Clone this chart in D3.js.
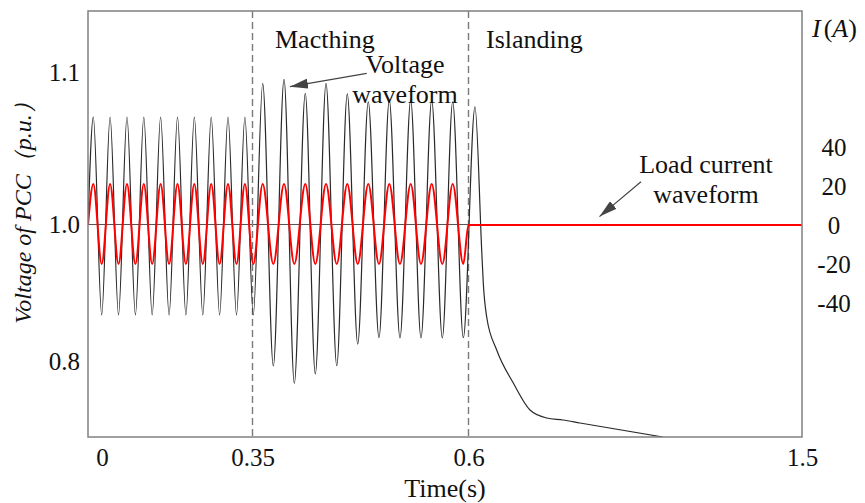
<!DOCTYPE html>
<html>
<head>
<meta charset="utf-8">
<script src="https://cdn.jsdelivr.net/npm/d3@7"></script>
<style>
  body { margin: 0; background: #fff; }
  text { font-family: "Liberation Serif", "Times New Roman", serif; fill: #111; }
</style>
</head>
<body>
<div id="vis"></div>
<script>
// chart frame
const FRAME_WIDTH = 865;
const FRAME_HEIGHT = 503;
const PLOT = {left: 88, right: 802, top: 11, bottom: 437};
const SERIF = "'Liberation Serif', 'Times New Roman', serif";

// extrema of the waveforms (time in s)
const cycleTime = [
  -0.0202, -0.0007, 0.0188, 0.0384, 0.0581, 0.0777, 0.0972, 0.1167, 0.1363, 0.1560,
  0.1756, 0.1951, 0.2147, 0.2344, 0.2540, 0.2735, 0.2930, 0.3128, 0.3323, 0.3509,
  0.3618, 0.3741, 0.3865, 0.3984, 0.4111, 0.4227, 0.4351, 0.4475, 0.4597, 0.4718,
  0.4840, 0.4964, 0.5083, 0.5207, 0.5331, 0.5450, 0.5574, 0.5697, 0.5817, 0.5940
];
const voltExt = [
  1.0705, 0.8679, 1.0705, 0.8679, 1.0705, 0.8679, 1.0705, 0.8679, 1.0705, 0.8679,
  1.0705, 0.8679, 1.0705, 0.8679, 1.0705, 0.8679, 1.0705, 0.8679, 1.0705, 0.8679,
  1.0926, 0.7934, 1.0952, 0.7682, 1.0860, 0.7818, 1.0926, 0.7939, 1.0856, 0.8255,
  1.0805, 0.8347, 1.0816, 0.8343, 1.0816, 0.8343, 1.0816, 0.8343, 1.0805, 0.8347
];
const currExt = [
  21, -20, 21, -20, 21, -20, 21, -20, 21, -20,
  21, -20, 21, -20, 21, -20, 21, -20, 21, -20,
  21, -20, 21, -20, 21, -20, 21, -20, 21, -20,
  21, -20, 21, -20, 21, -20, 21, -20, 21, -20
];
// after islanding
const decayTime = [0.6175, 0.6356, 0.6399, 0.6491, 0.6761, 0.7209, 0.7659, 0.8110, 0.8550, 0.9009, 1.1248];
const decayVolt = [1.0772, 0.9628, 0.9146, 0.8650, 0.8168, 0.7686, 0.7292, 0.7175, 0.7146, 0.7102, 0.6898];
const flatTime = [0.6, 1.5];
const flatCurr = [0, 0];

const START_T = -0.0326;

// ticks
const xTicks = [0, 0.35, 0.6, 1.5];
const vTicks = [0.8, 1.0, 1.1];
const iTicks = [40, 20, 0, -20, -40];
const eventTimes = [0.35, 0.6];

const svg = d3.select("#vis")
  .append("svg")
    .attr("width", FRAME_WIDTH)
    .attr("height", FRAME_HEIGHT);

// scales (axis labels are unevenly spaced in the original, so piecewise)
const X_SCALE = d3.scaleLinear()
  .domain([START_T, 0, 0.35, 0.6, 1.5])
  .range([PLOT.left, 102, 252.5, 468.5, PLOT.right]);
const YV_SCALE = d3.scaleLinear()
  .domain([0.8, 1.0, 1.1])
  .range([361.5, 224.5, 72]);
const YI_SCALE = d3.scaleLinear()
  .domain([-40, 40])
  .range([303, 147]);

const defs = svg.append("defs");
defs.append("clipPath").attr("id", "clip")
  .append("rect")
    .attr("x", PLOT.left).attr("y", PLOT.top)
    .attr("width", PLOT.right - PLOT.left)
    .attr("height", PLOT.bottom - PLOT.top);

defs.append("marker")
    .attr("id", "arrow")
    .attr("markerUnits", "userSpaceOnUse")
    .attr("viewBox", "0 0 18 10")
    .attr("refX", 18).attr("refY", 5)
    .attr("markerWidth", 18).attr("markerHeight", 10)
    .attr("orient", "auto")
  .append("path")
    .attr("d", "M0,0 L18,5 L0,10 Z")
    .attr("fill", "#444");

// reference line at 1.0
svg.append("line")
  .attr("x1", PLOT.left).attr("x2", PLOT.right)
  .attr("y1", YV_SCALE(1.0)).attr("y2", YV_SCALE(1.0))
  .attr("stroke", "#555").attr("stroke-width", 1.2);

// event lines
svg.selectAll(".event")
  .data(eventTimes)
  .enter()
  .append("line")
    .attr("x1", (d) => X_SCALE(d)).attr("x2", (d) => X_SCALE(d))
    .attr("y1", PLOT.top).attr("y2", PLOT.bottom)
    .attr("stroke", "#7a7a7a").attr("stroke-width", 1.4)
    .attr("stroke-dasharray", "7,4");

// build series
const voltData = [{t: START_T, v: 1.0}]
  .concat(cycleTime.map((t, i) => ({t: t, v: voltExt[i]})))
  .concat(decayTime.map((t, i) => ({t: t, v: decayVolt[i]})));
const currData = [{t: START_T, v: 0}]
  .concat(cycleTime.map((t, i) => ({t: t, v: currExt[i]})))
  .concat(flatTime.map((t, i) => ({t: t, v: flatCurr[i]})));

const voltLine = d3.line()
  .x((d) => X_SCALE(d.t))
  .y((d) => YV_SCALE(d.v))
  .curve(d3.curveMonotoneX);
const currLine = d3.line()
  .x((d) => X_SCALE(d.t))
  .y((d) => YI_SCALE(d.v))
  .curve(d3.curveMonotoneX);

svg.append("path")
  .datum(voltData)
  .attr("clip-path", "url(#clip)")
  .attr("d", voltLine)
  .attr("fill", "none")
  .attr("stroke", "#2a2a2a")
  .attr("stroke-width", 1.2);

svg.append("path")
  .datum(currData)
  .attr("clip-path", "url(#clip)")
  .attr("d", currLine)
  .attr("fill", "none")
  .attr("stroke", "#ff0000")
  .attr("stroke-width", 2);

// frame
svg.append("rect")
  .attr("x", PLOT.left).attr("y", PLOT.top)
  .attr("width", PLOT.right - PLOT.left)
  .attr("height", PLOT.bottom - PLOT.top)
  .attr("fill", "none")
  .attr("stroke", "#808080")
  .attr("stroke-width", 1.5);

// axes
const xAxis = svg.append("g")
  .attr("transform", "translate(0," + PLOT.bottom + ")")
  .call(d3.axisBottom(X_SCALE).tickValues(xTicks).tickSize(0).tickPadding(11)
    .tickFormat((d) => String(d)));
const vAxis = svg.append("g")
  .attr("transform", "translate(" + PLOT.left + ",0)")
  .call(d3.axisLeft(YV_SCALE).tickValues(vTicks).tickSize(0).tickPadding(8)
    .tickFormat((d) => d.toFixed(1)));
const iAxis = svg.append("g")
  .attr("transform", "translate(" + PLOT.right + ",0)")
  .call(d3.axisRight(YI_SCALE).tickValues(iTicks).tickSize(0).tickPadding(32)
    .tickFormat((d) => String(d)));

[xAxis, vAxis, iAxis].forEach((g) => {
  g.select(".domain").remove();
  g.attr("font-family", SERIF).attr("font-size", null);
  g.selectAll("text")
    .attr("font-family", SERIF)
    .attr("font-size", "25px")
    .attr("fill", "#111");
});
iAxis.selectAll("text").attr("text-anchor", "middle");

// axis titles
svg.append("text")
  .attr("x", 445).attr("y", 497)
  .attr("text-anchor", "middle")
  .attr("font-size", "26px")
  .text("Time(s)");

svg.append("text")
  .attr("transform", "translate(31,207) rotate(-90)")
  .attr("text-anchor", "middle")
  .attr("font-family", SERIF)
  .attr("font-size", "24px")
  .attr("font-style", "italic")
  .text("Voltage of PCC（p.u.）");

const iTitle = svg.append("text")
  .attr("x", 812).attr("y", 37)
  .attr("font-size", "26px");
iTitle.append("tspan").attr("font-style", "italic").text("I");
iTitle.append("tspan").attr("dx", 3).text("(");
iTitle.append("tspan").attr("font-style", "italic").text("A");
iTitle.append("tspan").text(")");

// stage labels
svg.append("text").attr("x", 275).attr("y", 48)
  .attr("font-size", "26px").text("Macthing");
svg.append("text").attr("x", 486).attr("y", 48)
  .attr("font-size", "26px").text("Islanding");

// callouts
const notes = [
  {lines: ["Voltage", "waveform"], cx: 405, y0: 73,
   from: {t: 0.4822, v: 1.0991}, to: {t: 0.3934, v: 1.0904}, scale: YV_SCALE},
  {lines: ["Load current", "waveform"], cx: 706, y0: 173,
   from: {t: 1.0655, v: 22.2}, to: {t: 0.9535, v: 4.3}, scale: YI_SCALE}
];

notes.forEach((n) => {
  n.lines.forEach((s, i) => {
    svg.append("text")
      .attr("x", n.cx).attr("y", n.y0 + i * 30)
      .attr("text-anchor", "middle")
      .attr("font-size", "26px")
      .text(s);
  });
  svg.append("line")
    .attr("x1", X_SCALE(n.from.t)).attr("y1", n.scale(n.from.v))
    .attr("x2", X_SCALE(n.to.t)).attr("y2", n.scale(n.to.v))
    .attr("stroke", "#444").attr("stroke-width", 1.2)
    .attr("marker-end", "url(#arrow)");
});
</script>
</body>
</html>
